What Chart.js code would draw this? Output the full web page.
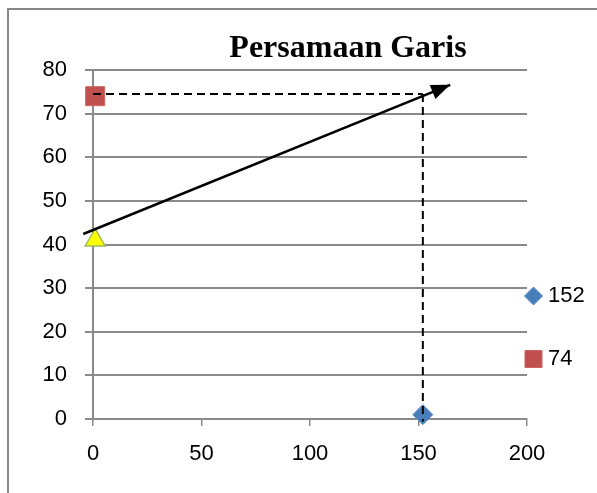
<!DOCTYPE html>
<html>
<head>
<meta charset="utf-8">
<script src="https://cdn.jsdelivr.net/npm/chart.js@4.4.1/dist/chart.umd.min.js"></script>
<style>
html,body{margin:0;padding:0;background:#fff;}
#wrap{position:relative;width:597px;height:493px;}
</style>
</head>
<body>
<div id="wrap"><canvas id="c" width="597" height="493"></canvas></div>
<script>
// ---- data ----
const chartTitle = 'Persamaan Garis';
const seriesLabels = ['152', '74', 'Titik potong'];
const diamondX = [152];
const diamondY = [1];
const squareX = [1];
const squareY = [74];
const triangleX = [1];
const triangleY = [41];
const lineX = [-4.5, 164.6];
const lineY = [42.4, 76.6];
const hDashX = [0, 152];
const hDashY = [74.5, 74.5];
const vDashX = [152, 152];
const vDashY = [74.5, -0.6];
const xTickValues = [0, 50, 100, 150, 200];
const yTickValues = [0, 10, 20, 30, 40, 50, 60, 70, 80];

const pts = (xs, ys) => xs.map((x, i) => ({x: x, y: ys[i]}));

const GRID = '#8a8a8a';
const TICK_FONT = {family: 'Liberation Sans', size: 22};

const framePlugin = {
  id: 'frame',
  beforeDraw(chart) {
    const ctx = chart.ctx;
    ctx.save();
    ctx.fillStyle = '#fff';
    ctx.fillRect(0, 0, chart.width, chart.height);
    ctx.strokeStyle = '#868686';
    ctx.lineWidth = 2;
    ctx.strokeRect(8, 9, 800, 800);
    ctx.restore();
  }
};

const titlePlugin = {
  id: 'customTitle',
  afterDraw(chart) {
    const ctx = chart.ctx;
    ctx.save();
    ctx.font = 'bold 32px "Liberation Serif"';
    ctx.fillStyle = '#000';
    ctx.textAlign = 'center';
    ctx.textBaseline = 'alphabetic';
    ctx.fillText(chartTitle, 348, 57);
    ctx.restore();
  }
};

const arrowPlugin = {
  id: 'arrowHead',
  afterDatasetsDraw(chart) {
    const meta = chart.getDatasetMeta(0);
    const d = meta.data;
    if (d.length < 2) return;
    const p1 = d[d.length - 2], p2 = d[d.length - 1];
    const ang = Math.atan2(p2.y - p1.y, p2.x - p1.x);
    const L = 19, W = 7.5;
    const ctx = chart.ctx;
    ctx.save();
    ctx.fillStyle = '#000';
    ctx.beginPath();
    ctx.moveTo(p2.x, p2.y);
    ctx.lineTo(p2.x - L * Math.cos(ang) + W * Math.sin(ang), p2.y - L * Math.sin(ang) - W * Math.cos(ang));
    ctx.lineTo(p2.x - L * Math.cos(ang) - W * Math.sin(ang), p2.y - L * Math.sin(ang) + W * Math.cos(ang));
    ctx.closePath();
    ctx.fill();
    ctx.restore();
  }
};

const legendPlugin = {
  id: 'customLegend',
  afterDraw(chart) {
    const ctx = chart.ctx;
    const items = [
      {ds: chart.data.datasets[3], y: 296, radius: 9},
      {ds: chart.data.datasets[4], y: 359, radius: 12}
    ];
    ctx.save();
    items.forEach(it => {
      ctx.fillStyle = it.ds.backgroundColor;
      ctx.strokeStyle = it.ds.borderColor;
      ctx.lineWidth = 1;
      Chart.helpers.drawPoint(ctx, {pointStyle: it.ds.pointStyle, radius: it.radius, rotation: 0, borderWidth: 1}, 533.5, it.y);
      ctx.fillStyle = '#000';
      ctx.font = '22px "Liberation Sans"';
      ctx.textAlign = 'left';
      ctx.textBaseline = 'middle';
      ctx.fillText(it.ds.label, 548, it.y);
    });
    ctx.restore();
  }
};

new Chart(document.getElementById('c'), {
  type: 'scatter',
  data: {
    datasets: [
      {label: 'garis', data: pts(lineX, lineY), showLine: true, borderColor: '#000', borderWidth: 2.5,
       pointRadius: 0, clip: false, order: 0},
      {label: 'h', data: pts(hDashX, hDashY), showLine: true, borderColor: '#000', borderWidth: 2,
       borderDash: [8, 5], pointRadius: 0, clip: false, order: 1},
      {label: 'v', data: pts(vDashX, vDashY), showLine: true, borderColor: '#000', borderWidth: 2,
       borderDash: [8, 5], pointRadius: 0, clip: false, order: 1},
      {label: seriesLabels[0], data: pts(diamondX, diamondY), pointStyle: 'rectRot', pointRadius: 10,
       backgroundColor: '#4a7ebb', borderColor: '#5a8ccb', borderWidth: 1, clip: false, order: 5},
      {label: seriesLabels[1], data: pts(squareX, squareY), pointStyle: 'rect', pointRadius: 13.4,
       backgroundColor: '#c0504d', borderColor: '#cc6360', borderWidth: 1, clip: false, order: 5},
      {label: seriesLabels[2], data: pts(triangleX, triangleY), pointStyle: 'triangle', pointRadius: 11.5,
       backgroundColor: '#ffff00', borderColor: '#9bbb59', borderWidth: 1.5, clip: false, order: 5}
    ]
  },
  options: {
    responsive: false,
    animation: false,
    events: [],
    layout: {padding: {left: 0, right: 70, top: 70, bottom: 0}},
    plugins: {legend: {display: false}, title: {display: false}, tooltip: {enabled: false}},
    scales: {
      x: {
        type: 'linear', min: xTickValues[0], max: xTickValues[xTickValues.length - 1],
        afterBuildTicks(s) { s.ticks = xTickValues.map(v => ({value: v})); },
        afterFit(s) { s.height = 74; },
        grid: {drawOnChartArea: false, drawTicks: true, tickLength: 7, color: GRID, lineWidth: 1.5},
        border: {display: true, color: GRID, width: 2},
        ticks: {font: TICK_FONT, color: '#000', padding: 15, maxRotation: 0}
      },
      y: {
        type: 'linear', min: yTickValues[0], max: yTickValues[yTickValues.length - 1],
        afterBuildTicks(s) { s.ticks = yTickValues.map(v => ({value: v})); },
        afterFit(s) { s.width = 93; },
        grid: {color: GRID, lineWidth: 2, tickLength: 8},
        border: {display: true, color: GRID, width: 2},
        ticks: {font: TICK_FONT, color: '#000', padding: 18}
      }
    }
  },
  plugins: [framePlugin, arrowPlugin, titlePlugin, legendPlugin]
});
</script>
</body>
</html>
